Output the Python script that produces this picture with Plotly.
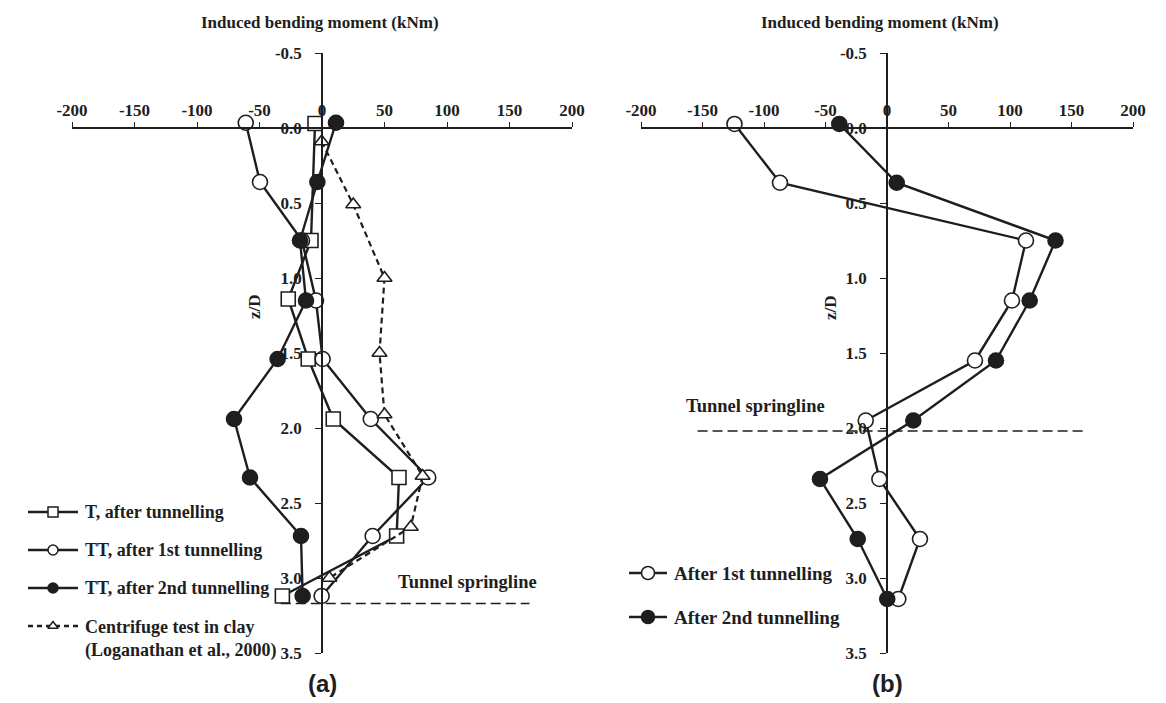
import plotly.graph_objects as go

# ---- Panel (a): single and twin tunnelling, with centrifuge reference ----
z_t = [-0.03, 0.75, 1.14, 1.54, 1.94, 2.33, 2.72, 3.12]
m_t = [-5.6, -8.8, -27.0, -11.0, 9.0, 61.6, 59.7, -31.7]

z_tt = [-0.035, 0.36, 0.75, 1.15, 1.54, 1.94, 2.33, 2.72, 3.12]
m_tt_1st = [-61.0, -49.6, -16.0, -4.8, 0.5, 39.0, 85.0, 40.5, -0.3]
m_tt_2nd = [11.2, -3.7, -17.6, -12.8, -35.5, -70.4, -57.6, -16.8, -15.5]

z_cf = [0.09, 0.51, 1.0, 1.5, 1.91, 2.32, 2.66, 3.0]
m_cf = [-0.3, 25.0, 50.0, 46.0, 50.0, 80.5, 71.0, 5.9]

springline_a_z = 3.17
springline_a_x = [-33, 166]

# ---- Panel (b) ----
z_b = [-0.027, 0.365, 0.75, 1.15, 1.55, 1.95, 2.34, 2.74, 3.14]
m_b_1st = [-124.0, -87.0, 113.0, 101.6, 71.5, -17.3, -6.2, 26.8, 9.2]
m_b_2nd = [-38.8, 7.9, 137.0, 116.0, 88.6, 21.4, -54.5, -23.8, 0.2]

springline_b_z = 2.02
springline_b_x = [-154, 163]

x_ticks = [-200, -150, -100, -50, 0, 50, 100, 150, 200]
y_ticks = [-0.5, 0.0, 0.5, 1.0, 1.5, 2.0, 2.5, 3.0, 3.5]

W, H = 1166, 703
INK = "#1e1e1e"
SERIF = "Liberation Serif"
SANS = "Liberation Sans"

x_range = [-200, 200]
y_range = [3.5, -0.5]

# plot areas in pixels
a_left, a_right = 72, 572
b_left, b_right = 641, 1133
top_px, bot_px = 53, 653

dom_y = [1 - bot_px / H, 1 - top_px / H]


def paper_x(px):
    return px / W


def axis_pos(dom, lo, hi, v):
    # paper position of value v on an axis spanning lo..hi over dom
    return dom[0] + (v - lo) / (hi - lo) * (dom[1] - dom[0])


dom_xa = [paper_x(a_left), paper_x(a_right)]
dom_xb = [paper_x(b_left), paper_x(b_right)]

xaxis_pos = axis_pos(dom_y, 3.5, -0.5, 0.0)
yaxis_a_pos = axis_pos(dom_xa, -200, 200, 0.0)
yaxis_b_pos = axis_pos(dom_xb, -200, 200, 0.0)

fig = go.Figure()

MS = 15
LW = 2.4


def add_series(x, y, name, symbol, fill, xa, ya, dash="solid", size=MS):
    fig.add_trace(go.Scatter(
        x=x, y=y, name=name, mode="lines+markers", showlegend=False,
        xaxis=xa, yaxis=ya,
        line=dict(color=INK, width=LW if dash == "solid" else 2.2, dash=dash),
        marker=dict(symbol=symbol, size=size, color=fill,
                    line=dict(color=INK, width=1.6)),
        cliponaxis=False,
    ))


def label(text, x, y, font, **kw):
    # text placed in figure pixels through the overlay axis
    fig.add_annotation(text=text, xref="x3", yref="y3", x=x, y=y,
                       showarrow=False, font=font, **kw)


# ---- legend keys, drawn on a pixel-space overlay axis ----
legend_keys = [
    # (label, symbol, fill, dash, x_start, x_end, y, marker size, font size)
    ("T, after tunnelling", "square", "white", "solid", 28, 78, 512, 10, 18),
    ("TT, after 1st tunnelling", "circle", "white", "solid", 28, 78, 550, 10, 18),
    ("TT, after 2nd tunnelling", "circle", INK, "solid", 28, 78, 588, 10, 18),
    ("Centrifuge test in clay<br>(Loganathan et al., 2000)", "triangle-up", "white",
     "5px,4px", 28, 78, 626, 9, 18),
    ("After 1st tunnelling", "circle", "white", "solid", 629, 667, 573, 13, 19),
    ("After 2nd tunnelling", "circle", INK, "solid", 629, 667, 617, 13, 19),
]

for text, sym, fill, dash, xs, xe, yy, msz, fsz in legend_keys:
    fig.add_trace(go.Scatter(
        x=[xs, xe], y=[yy, yy], mode="lines", showlegend=False, hoverinfo="skip",
        xaxis="x3", yaxis="y3", line=dict(color=INK, width=2.4, dash=dash),
    ))
    fig.add_trace(go.Scatter(
        x=[(xs + xe) / 2], y=[yy], mode="markers", showlegend=False, hoverinfo="skip",
        xaxis="x3", yaxis="y3",
        marker=dict(symbol=sym, size=msz, color=fill, line=dict(color=INK, width=1.5)),
    ))
    two_line = "<br>" in text
    label(text, xe + 5, yy - (fsz * 0.62 if two_line else 0),
          dict(family=SERIF, size=fsz, color=INK, weight="bold"),
          xanchor="left", yanchor="top" if two_line else "middle", align="left")

# data series drawn after the overlay so they sit on top
add_series(m_t, z_t, "T, after tunnelling", "square", "white", "x", "y", size=14)
add_series(m_tt_1st, z_tt, "TT, after 1st tunnelling", "circle", "white", "x", "y")
add_series(m_tt_2nd, z_tt, "TT, after 2nd tunnelling", "circle", INK, "x", "y")
add_series(m_cf, z_cf, "Centrifuge test in clay", "triangle-up", "white", "x", "y",
           dash="6px,4px", size=13)

add_series(m_b_1st, z_b, "After 1st tunnelling", "circle", "white", "x2", "y2")
add_series(m_b_2nd, z_b, "After 2nd tunnelling", "circle", INK, "x2", "y2")

# tunnel springlines
fig.add_shape(type="line", xref="x", yref="y",
              x0=springline_a_x[0], x1=springline_a_x[1],
              y0=springline_a_z, y1=springline_a_z,
              line=dict(color=INK, width=1.4, dash="10px,5px"))
fig.add_shape(type="line", xref="x2", yref="y2",
              x0=springline_b_x[0], x1=springline_b_x[1],
              y0=springline_b_z, y1=springline_b_z,
              line=dict(color=INK, width=1.4, dash="10px,5px"))

tick_font = dict(family=SERIF, size=17, color=INK, weight="bold")

xaxis_common = dict(
    range=x_range, tickvals=x_ticks, ticktext=[str(v) for v in x_ticks],
    side="top", anchor="free", position=xaxis_pos,
    showline=True, linecolor=INK, linewidth=1.5,
    ticks="outside", ticklen=5, tickwidth=1.3, tickcolor=INK,
    showgrid=False, zeroline=False, tickfont=tick_font,
    ticklabelstandoff=-1,
)
yaxis_common = dict(
    range=y_range, domain=dom_y, tickvals=y_ticks,
    ticktext=[f"{v:.1f}" for v in y_ticks],
    anchor="free", showline=True, linecolor=INK, linewidth=1.5,
    ticks="outside", ticklen=6, tickwidth=1.3, tickcolor=INK,
    showgrid=False, zeroline=False, tickfont=tick_font,
    ticklabelstandoff=10,
)

fig.update_layout(
    width=W, height=H,
    margin=dict(l=0, r=0, t=0, b=0, autoexpand=False),
    paper_bgcolor="white", plot_bgcolor="rgba(0,0,0,0)",
    xaxis=dict(domain=dom_xa, **xaxis_common),
    xaxis2=dict(domain=dom_xb, **xaxis_common),
    yaxis=dict(position=yaxis_a_pos, **yaxis_common),
    yaxis2=dict(position=yaxis_b_pos, **yaxis_common),
    xaxis3=dict(domain=[0, 1], range=[0, W], visible=False, fixedrange=True),
    yaxis3=dict(domain=[0, 1], range=[H, 0], visible=False, fixedrange=True,
                anchor="x3"),
    showlegend=False,
)

title_font = dict(family=SERIF, size=17, color=INK, weight="bold")
label("Induced bending moment (kNm)", 320, 22, title_font)
label("Induced bending moment (kNm)", 880, 22, title_font)
label("z/D", 254, 307, title_font, textangle=-90)
label("z/D", 830, 308, title_font, textangle=-90)

spring_font = dict(family=SERIF, size=18.5, color=INK, weight="bold")
label("Tunnel springline", 467, 582, spring_font)
label("Tunnel springline", 755, 406, spring_font)

panel_font = dict(family=SANS, size=24, color=INK, weight="bold")
label("(a)", 322, 683, panel_font)
label("(b)", 887, 683, panel_font)

fig.write_html("out.html")
